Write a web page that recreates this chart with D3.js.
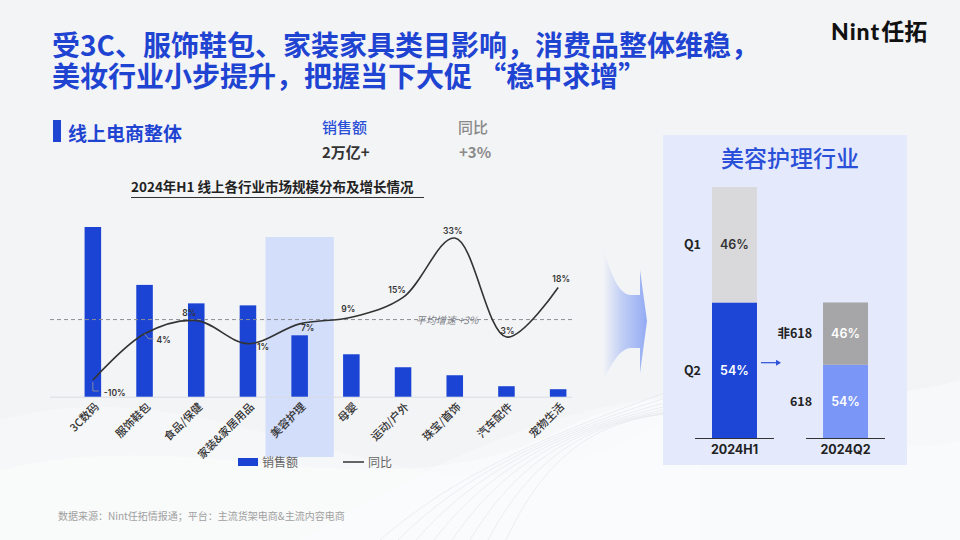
<!DOCTYPE html>
<html><head><meta charset="utf-8">
<script src="https://cdn.jsdelivr.net/npm/d3@7/dist/d3.min.js"></script>
<style>
html,body{margin:0;padding:0;background:#f3f4f6;}
svg{display:block;font-family:"Noto Sans CJK SC","Noto Sans",sans-serif;}
</style></head>
<body>
<svg id="c" width="960" height="540"></svg>
<script>
// ---------- data ----------
const titleLines = ["受3C、服饰鞋包、家装家具类目影响，消费品整体维稳，", "美妆行业小步提升，把握当下大促 “稳中求增”"];
const categories = ["3C数码","服饰鞋包","食品/保健","家装&家居用品","美容护理","母婴","运动/户外","珠宝/首饰","汽车配件","宠物生活"];
const salesValues = [3400, 2240, 1870, 1830, 1230, 850, 590, 430, 210, 150];
const growthValues = [-10, 4, 8, 1, 7, 9, 15, 33, 3, 18];
const growthLabels = ["-10%","4%","8%","1%","7%","9%","15%","33%","3%","18%"];
const avgGrowthText = "平均增速 +3%";
const highlightCategory = "美容护理";
const summaryHeads = ["销售额","同比"];
const summaryValues = ["2万亿+","+3%"];
const periods = ["2024H1","2024Q2"];
const h1Parts = ["Q2","Q1"];
const h1Shares = [54, 46];
const q2Parts = ["618","非618"];
const q2Shares = [54, 46];

// ---------- layout / style (not data) ----------
const labelPlace = [[11,13,"start"],[12,6,"start"],[-7,-8,"middle"],[9,3,"start"],[8,4,"middle"],[-3,-8,"middle"],[-6,-7,"middle"],[-2,-7,"middle"],[1,-6,"middle"],[3,-9,"middle"]];
const blue = "#1b44d4";

const svg = d3.select("#c");
const defs = svg.append("defs");

// background swooshes
const bgG = svg.append("g");
bgG.append("rect").attr("width",960).attr("height",540).attr("fill","#f3f4f6");
const sw = [
  "M0,470 C200,420 380,520 560,430 C700,360 820,420 960,380 L960,540 L0,540 Z",
  "M300,540 C420,470 520,420 640,400 C760,380 860,470 960,440 L960,540 Z",
  "M0,420 C150,380 260,440 420,470 C520,490 600,460 700,400 L700,540 L0,540 Z"
];
sw.forEach((p,i)=>bgG.append("path").attr("d",p).attr("fill","#ffffff").attr("opacity",[0.35,0.3,0.25][i]));
for(let i=0;i<8;i++){
  bgG.append("path").attr("d",`M${380+i*18},540 C${460+i*14},${470-i*6} ${560+i*10},${430-i*4} ${700+i*8},${380+i*5}`)
    .attr("fill","none").attr("stroke","#e2e4e9").attr("stroke-width",1).attr("opacity",0.6);
}

// ---------- header ----------
const tt = svg.append("text").attr("x",52).attr("y",56)
  .attr("font-size",28).attr("font-weight",700).attr("fill","#1f44d2");
tt.selectAll("tspan").data(titleLines).join("tspan").attr("x",52).attr("dy",(d,i)=>i?31:0).text(d=>d);

const logo = svg.append("text").attr("x",831).attr("y",40).attr("font-size",23).attr("font-weight",700).attr("fill","#111");
logo.append("tspan").attr("font-family","Lato, Inter, sans-serif").attr("font-weight",900).attr("letter-spacing",1).text("Nint");
logo.append("tspan").attr("dx",1).text("任拓");

// section header
svg.append("rect").attr("x",53).attr("y",120).attr("width",8).attr("height",22).attr("fill","#1f44d2");
svg.append("text").attr("x",68).attr("y",141).attr("font-size",19).attr("font-weight",700).attr("fill","#1f44d2").text("线上电商整体");

const sx = [322, 458];
summaryHeads.forEach((h,i)=>{
  svg.append("text").attr("x",sx[i]).attr("y",133).attr("font-size",15).attr("font-weight",500)
    .attr("fill", i===0 ? "#2a4fd6" : "#8a8a8a").text(h);
  svg.append("text").attr("x",sx[i]+(i?1:0)).attr("y",158).attr("font-size",15).attr("font-weight",700)
    .attr("fill", i===0 ? "#333" : "#8a8a8a").text(summaryValues[i]);
});

// chart title
svg.append("text").attr("x",131).attr("y",192).attr("font-size",13.5).attr("font-weight",700).attr("fill","#222")
  .text("2024年H1 线上各行业市场规模分布及增长情况");
svg.append("line").attr("x1",131).attr("x2",424).attr("y1",197.5).attr("y2",197.5).attr("stroke","#333").attr("stroke-width",1);

// ---------- left chart ----------
const x = d3.scaleBand().domain(categories).range([67,584]).paddingInner(0.68).paddingOuter(0.34);
const yS = d3.scaleLinear().domain([0, 3400]).range([396.7, 227]);
const yG = d3.scaleLinear().domain([-10, 33]).range([380, 238]);

// highlight
const hw = x.step()*1.32;
svg.append("rect").attr("x", x(highlightCategory)+x.bandwidth()/2-hw/2).attr("y",237)
  .attr("width",hw).attr("height",220).attr("fill","#d3defb");

// baseline
svg.append("line").attr("x1",50).attr("x2",572).attr("y1",yS(0)+0.5).attr("y2",yS(0)+0.5).attr("stroke","#d8dbe2").attr("stroke-width",1);

// bars
svg.selectAll("rect.bar").data(salesValues).join("rect").attr("class","bar")
  .attr("x",(d,i)=>x(categories[i])).attr("width",x.bandwidth())
  .attr("y",d=>yS(d)).attr("height",d=>yS(0)-yS(d)).attr("fill",blue);

// average dashed line
const avgY = yG(8.3);
svg.append("line").attr("x1",50).attr("x2",572).attr("y1",avgY).attr("y2",avgY)
  .attr("stroke","#8c8f96").attr("stroke-width",1).attr("stroke-dasharray","4,3");
svg.append("text").attr("x",447).attr("y",avgY+4).attr("text-anchor","middle").attr("font-size",10)
  .attr("font-style","italic").attr("fill","#7c7f87").text(avgGrowthText);

// growth line
const cx = c => x(c)+x.bandwidth()/2;
const line = d3.line().x((d,i)=>cx(categories[i])).y(d=>yG(d)).curve(d3.curveCatmullRom.alpha(0.5));
svg.append("path").datum(growthValues).attr("d",line).attr("fill","none").attr("stroke","#333").attr("stroke-width",1.6);

// leader lines for first two labels
const p0x = cx(categories[0]), p0y = yG(growthValues[0]);
svg.append("path").attr("d",`M${p0x},${p0y+2}V${p0y+11}H${p0x+6}`).attr("fill","none").attr("stroke","#999").attr("stroke-width",0.8);
const p1x = cx(categories[1]), p1y = yG(growthValues[1]);
svg.append("path").attr("d",`M${p1x},${p1y}L${p1x+4},${p1y+5}H${p1x+9}`).attr("fill","none").attr("stroke","#999").attr("stroke-width",0.8);

svg.selectAll("text.gl").data(growthValues).join("text").attr("class","gl")
  .attr("x",(d,i)=>cx(categories[i])+labelPlace[i][0])
  .attr("y",(d,i)=>yG(d)+labelPlace[i][1])
  .attr("dy","0.35em")
  .attr("text-anchor",(d,i)=>labelPlace[i][2])
  .attr("font-family","Inter, Lato, sans-serif").attr("font-size",8.5).attr("font-weight",600).attr("fill","#333")
  .text((d,i)=>growthLabels[i]);

// x axis labels
const xAxis = d3.axisBottom(x).tickSize(0).tickPadding(0);
const ax = svg.append("g").attr("transform",`translate(0,${yS(0)})`).call(xAxis);
ax.select(".domain").remove();
ax.selectAll("text").attr("transform","translate(4,8) rotate(-45)").attr("text-anchor","end")
  .attr("dy","0.35em").attr("font-size",11).attr("font-weight",500).attr("fill","#333")
  .attr("font-family","\"Noto Sans CJK SC\",sans-serif");

// legend
svg.append("rect").attr("x",238).attr("y",458).attr("width",20).attr("height",8).attr("fill",blue);
svg.append("text").attr("x",262).attr("y",467).attr("font-size",12).attr("fill","#666").text("销售额");
svg.append("line").attr("x1",343).attr("x2",364).attr("y1",462).attr("y2",462).attr("stroke","#333").attr("stroke-width",1.5);
svg.append("text").attr("x",368).attr("y",467).attr("font-size",12).attr("fill","#666").text("同比");

// ---------- big arrow ----------
const ag = defs.append("linearGradient").attr("id","ag").attr("x1","0").attr("x2","1").attr("y1","0").attr("y2","0");
ag.append("stop").attr("offset","0").attr("stop-color","#9bb2f5").attr("stop-opacity",0);
ag.append("stop").attr("offset","0.45").attr("stop-color","#9bb2f5").attr("stop-opacity",0.6);
ag.append("stop").attr("offset","1").attr("stop-color","#88a2f3").attr("stop-opacity",0.9);
svg.append("path").attr("d","M603,250 C612,275 618,293 630,295 L640,295 L640,270 L647,321 L640,373 L640,348 L630,348 C618,350 612,365 603,380 Z")
  .attr("fill","url(#ag)");

// ---------- right panel ----------
svg.append("rect").attr("x",663).attr("y",135).attr("width",244).attr("height",330).attr("fill","#e4eafb");
svg.append("text").attr("x",790).attr("y",167).attr("text-anchor","middle").attr("font-size",23).attr("font-weight",500)
  .attr("fill","#2a4fd8").text("美容护理行业");

const xr = d3.scaleBand().domain(periods).range([712,868]).paddingInner(0.595).paddingOuter(0);
const yr = d3.scaleLinear().domain([0,100]).range([438,187]);

const h1Colors = {"Q2":"#1d45d6","Q1":"#d9d9db"};
const h1Stack = d3.cumsum(h1Shares);
const q2Total = h1Shares[0];
const q2Vals = q2Shares.map(s=>s*q2Total/100);
const q2Stack = d3.cumsum(q2Vals);
const q2Colors = {"618":"#7a96f6","非618":"#a6a6a8"};

const segs = [];
h1Parts.forEach((p,i)=>segs.push({period:periods[0], name:p, share:h1Shares[i], y0:i?h1Stack[i-1]:0, y1:h1Stack[i], color:h1Colors[p], txt: p==="Q1"?"#333":"#fff"}));
q2Parts.forEach((p,i)=>segs.push({period:periods[1], name:p, share:q2Shares[i], y0:i?q2Stack[i-1]:0, y1:q2Stack[i], color:q2Colors[p], txt:"#fff"}));

svg.selectAll("rect.seg").data(segs).join("rect").attr("class","seg")
  .attr("x",d=>xr(d.period)).attr("width",xr.bandwidth())
  .attr("y",d=>yr(d.y1)).attr("height",d=>yr(d.y0)-yr(d.y1)).attr("fill",d=>d.color);
svg.selectAll("text.segv").data(segs).join("text").attr("class","segv")
  .attr("x",d=>xr(d.period)+xr.bandwidth()/2).attr("y",d=>(yr(d.y0)+yr(d.y1))/2).attr("dy","0.35em")
  .attr("text-anchor","middle").attr("font-family","Inter, Lato, sans-serif").attr("font-size",12.5).attr("font-weight",600)
  .attr("fill",d=>d.txt).text(d=>d.share+"%");
svg.selectAll("text.segn").data(segs).join("text").attr("class","segn")
  .attr("x",d=>xr(d.period)-11).attr("y",d=>(yr(d.y0)+yr(d.y1))/2).attr("dy","0.35em")
  .attr("text-anchor","end").attr("font-family","\"Noto Sans CJK SC\",sans-serif").attr("font-size",12.5).attr("font-weight",700)
  .attr("fill","#222").text(d=>d.name);

periods.forEach(p=>{
  svg.append("line").attr("x1",xr(p)-17).attr("x2",xr(p)+xr.bandwidth()+17).attr("y1",yr(0)+0.5).attr("y2",yr(0)+0.5)
    .attr("stroke","#333").attr("stroke-width",1);
  svg.append("text").attr("x",xr(p)+xr.bandwidth()/2).attr("y",454).attr("text-anchor","middle")
    .attr("font-family","Inter, Lato, sans-serif").attr("font-size",12.5).attr("font-weight",700).attr("fill","#222").text(p);
});

// small arrow
const arY = yr(30);
const arX1 = xr(periods[0])+xr.bandwidth()+4, arX2 = xr(periods[1])-42;
svg.append("line").attr("x1",arX1).attr("x2",arX2-4).attr("y1",arY).attr("y2",arY).attr("stroke","#2a4fd8").attr("stroke-width",1.2);
svg.append("path").attr("d",`M${arX2},${arY} l-5,-3 v6 Z`).attr("fill","#2a4fd8");

// footer
svg.append("text").attr("x",58).attr("y",520).attr("font-size",10).attr("fill","#a0a0a0")
  .text("数据来源：Nint任拓情报通；平台：主流货架电商&主流内容电商");
</script>
</body></html>
